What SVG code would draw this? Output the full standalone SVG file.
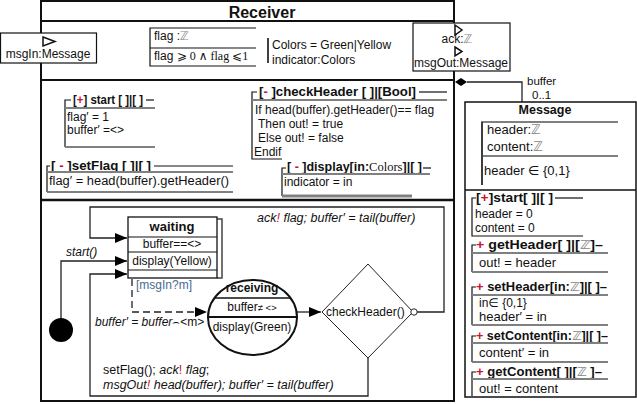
<svg xmlns="http://www.w3.org/2000/svg" width="637" height="404" viewBox="0 0 637 404">
<style>
.t{font-family:"Liberation Sans",Arial,"DejaVu Sans",sans-serif;font-size:12px;fill:#111}
.b{font-weight:bold}
.i{font-style:italic}
.r{fill:#cc1133}
.z{fill:#888}
.bl{fill:#4a6a96}
.s{font-family:"Liberation Serif","DejaVu Serif",serif}
.m{text-anchor:middle}
.mb{font-size:13px}
.ln{stroke:#111;stroke-width:1.2;fill:none}
.g{stroke:#808080;stroke-width:2;fill:none}
.fr{stroke:#111;stroke-width:2;fill:#fff}
.cn{stroke:#222;stroke-width:1.3;fill:none}
</style>
<defs>
<marker id="ah" viewBox="0 0 12 10" refX="12" refY="5" markerWidth="12" markerHeight="10" markerUnits="userSpaceOnUse" orient="auto"><path d="M0,0 L12,5 L0,10 z" fill="#000"/></marker>
</defs>
<rect x="0" y="0" width="637" height="404" fill="#fff"/>

<g id="receiver">
<rect x="41" y="1" width="413" height="400" class="fr"/>
<text x="262" y="18" class="t b m" style="font-size:16px">Receiver</text>
<line x1="41" y1="21" x2="454" y2="21" stroke="#111" stroke-width="2"/>
<line x1="41" y1="80" x2="454" y2="80" stroke="#111" stroke-width="2"/>
<line x1="41" y1="200" x2="454" y2="200" stroke="#111" stroke-width="2.5"/>
</g>

<g id="attributes">
<path d="M256,28 H150 V66 H256 M150,48 H256" class="ln"/>
<text x="154" y="40" class="t">flag :<tspan class="z">ℤ</tspan></text>
<text x="154" y="60" class="t">flag <tspan class="s">⩾ 0 ∧ flag ⩽1</tspan></text>
<line x1="268" y1="38" x2="268" y2="63" stroke="#111" stroke-width="1.6"/>
<text x="272" y="49" class="t">Colors = Green|Yellow</text>
<text x="272" y="64" class="t">indicator:Colors</text>
</g>

<g id="port-msgIn">
<rect x="0.5" y="33" width="96" height="30" fill="#fff" stroke="#111" stroke-width="1.2"/>
<polygon points="43,37 55,41.5 43,46" fill="#fff" stroke="#111" stroke-width="1.5"/>
<text x="48" y="58" class="t m">msgIn:Message</text>
</g>

<g id="port-out">
<rect x="413" y="23" width="97" height="48" fill="#fff" stroke="#111" stroke-width="1.2"/>
<polygon points="455,25 462,30 455,35" fill="#fff" stroke="#111" stroke-width="1.5"/>
<text x="457" y="43" class="t m">ack:<tspan class="z">ℤ</tspan></text>
<polygon points="455,47 462,51.5 455,56" fill="#fff" stroke="#111" stroke-width="1.5"/>
<text x="461" y="67" class="t m">msgOut:Message</text>
</g>

<g id="op-start">
<path d="M71,100 H65 V147" class="ln"/>
<text x="73" y="104" class="t b" textLength="70" lengthAdjust="spacingAndGlyphs">[<tspan class="r">+</tspan>] start [ ]|[ ]</text>
<line x1="146" y1="100" x2="154" y2="100" class="ln"/>
<path d="M65,108 H155 M65,147 H155" class="g"/>
<text x="67" y="121" class="t">flag′  = 1</text>
<text x="67" y="134" class="t">buffer′  =&lt;&gt;</text>
</g>

<g id="op-setFlag">
<path d="M50,166 H47 V192" class="ln"/>
<text x="51" y="170" class="t b" textLength="100" lengthAdjust="spacingAndGlyphs">[ <tspan class="r">-</tspan> ]setFlag [ ]|[ ]</text>
<line x1="154" y1="166" x2="233" y2="166" class="ln"/>
<path d="M47,172 H233 M47,192 H233" class="g"/>
<text x="49" y="185" class="t" textLength="180" lengthAdjust="spacingAndGlyphs">flag′ = head(buffer).getHeader()</text>
</g>

<g id="op-checkHeader">
<path d="M257,92 H252 V159 H282" class="ln"/>
<text x="259" y="96" class="t b" textLength="157" lengthAdjust="spacingAndGlyphs">[<tspan class="r">-</tspan> ]checkHeader [ ]|[Bool]</text>
<line x1="419" y1="92" x2="447" y2="92" class="ln"/>
<path d="M252,100 H447" class="g"/>
<text x="255" y="114" class="t">If head(buffer).getHeader()== flag</text>
<text x="258" y="128" class="t">Then out! = true</text>
<text x="258" y="142" class="t">Else out! = false</text>
<text x="254" y="156" class="t">Endif</text>
</g>

<g id="op-display">
<path d="M286,168 H282 V196" class="ln"/>
<text x="287" y="171" class="t b" textLength="135" lengthAdjust="spacingAndGlyphs">[ <tspan class="r">-</tspan> ]display[in:<tspan class="s" style="font-weight:normal">Colors</tspan>]|[ ]</text>
<line x1="423" y1="168" x2="431" y2="168" class="ln"/>
<path d="M282,174 H430" class="g"/>
<path d="M282,196 H412" stroke="#808080" stroke-width="3"/>
<text x="284" y="186" class="t">indicator = in</text>
</g>

<g id="connectors">
<path d="M417,312 H444 V207 H90 V238 H127" class="cn" marker-end="url(#ah)"/>
<path d="M61,320 V261 H127" class="cn" marker-end="url(#ah)"/>
<path d="M368,358 V396 H90 V274 H127" class="cn" marker-end="url(#ah)"/>
<path d="M132,279 V312 H207" class="cn" stroke-dasharray="7,4" marker-end="url(#ah)"/>
<path d="M297,312 H321" class="cn" marker-end="url(#ah)"/>
<path d="M467,82 H522 V102" class="cn"/>
<polygon points="455,82 461,78 467,82 461,86" fill="#000"/>
</g>

<g id="labels">
<text x="257" y="222" class="t i" style="font-size:12.5px">ack<tspan class="r">!</tspan> flag; buffer′ = tail(buffer)</text>
<text x="66" y="256" class="t i">start()</text>
<text x="136" y="289" class="t bl">[msgIn?m]</text>
<text x="95" y="326" class="t"><tspan class="i">buffer′  = buffer</tspan>⌢&lt;m&gt;</text>
<text x="103" y="374" class="t" style="font-size:12.5px">setFlag(); <tspan class="i">ack</tspan><tspan class="r">!</tspan> <tspan class="i">flag</tspan>;</text>
<text x="103" y="389" class="t i" style="font-size:12.5px">msgOut<tspan class="r">!</tspan> head(buffer); buffer′ = tail(buffer)</text>
<text x="527" y="85" class="t" style="font-size:11.5px">buffer</text>
<text x="532" y="99" class="t" style="font-size:11.5px">0..1</text>
</g>

<g id="initial">
<circle cx="61" cy="330" r="12" fill="#000"/>
</g>

<g id="waiting">
<path d="M217,219 H222 V278 H217" fill="#fff" stroke="#444" stroke-width="1.5"/>
<rect x="128" y="217" width="89" height="61" fill="#fff" stroke="#111" stroke-width="1.3"/>
<text x="172" y="231" class="t b m" style="font-size:13px">waiting</text>
<path d="M128,237 H217 M128,252 H217 M128,270 H217" class="ln"/>
<text x="172" y="248" class="t m">buffer==&lt;&gt;</text>
<text x="172" y="265" class="t m">display(Yellow)</text>
</g>

<g id="receiving">
<ellipse cx="252.5" cy="317.5" rx="44.5" ry="37.5" fill="#fff" stroke="#111" stroke-width="2"/>
<line x1="214.5" y1="298" x2="290.5" y2="298" stroke="#111" stroke-width="1.5"/>
<line x1="208" y1="317" x2="297" y2="317" stroke="#111" stroke-width="2"/>
<text x="252" y="292" class="t b m">receiving</text>
<text x="252" y="311" class="t m">buffer<tspan style="font-size:9.5px">≠ &lt;&gt;</tspan></text>
<text x="252" y="331" class="t m">display(Green)</text>
</g>

<g id="checkHeader-choice">
<polygon points="368,264 413,312 368,358 322,312" fill="#fff" stroke="#222" stroke-width="1"/>
<text x="326" y="316" class="t">checkHeader()</text>
<circle cx="414" cy="312" r="3.2" fill="#fff" stroke="#222" stroke-width="1"/>
</g>

<g id="message">
<rect x="465" y="102" width="171" height="295" fill="#fff" stroke="#111" stroke-width="1.5"/>
<text x="545" y="114" class="t b m" style="font-size:12.5px">Message</text>
<path d="M618,122 H482 V185 M482,156 H618" class="g"/>
<line x1="482" y1="122" x2="482" y2="185" class="ln"/>
<text x="487" y="134" class="t mb">header:<tspan class="z">ℤ</tspan></text>
<text x="487" y="151" class="t mb">content:<tspan class="z">ℤ</tspan></text>
<text x="484" y="175" class="t mb">header ∈ {0,1}</text>
<line x1="465" y1="190" x2="636" y2="190" stroke="#111" stroke-width="1.5"/>

<path d="M476,198 H472 V236 H583" class="ln"/>
<text x="476" y="202" class="t b" textLength="77" lengthAdjust="spacingAndGlyphs">[<tspan class="r">+</tspan>]start[ ]|[ ]</text>
<line x1="555" y1="198" x2="583" y2="198" class="ln"/>
<text x="475" y="218" class="t">header = 0</text>
<text x="475" y="232" class="t">content = 0</text>

<path d="M476,245 H472 V272" class="ln"/>
<text x="476" y="249" class="t b" textLength="127" lengthAdjust="spacingAndGlyphs"><tspan class="r">+</tspan> getHeader[ ]|[<tspan class="z">ℤ</tspan>]–</text>
<path d="M472,253 H608 M472,272 H608" class="g"/>
<text x="479" y="267" class="t mb">out! = header</text>

<path d="M476,287 H472 V325" class="ln"/>
<text x="476" y="291" class="t b" textLength="131" lengthAdjust="spacingAndGlyphs"><tspan class="r">+</tspan> setHeader[in:<tspan class="z">ℤ</tspan>]|[ ]–</text>
<path d="M472,295 H608 M472,325 H608" class="g"/>
<text x="479" y="307" class="t">in∈ {0,1}</text>
<text x="479" y="321" class="t mb">header′ = in</text>

<path d="M476,336 H472 V362" class="ln"/>
<text x="476" y="340" class="t b" textLength="132" lengthAdjust="spacingAndGlyphs"><tspan class="r">+</tspan> setContent[in:<tspan class="z">ℤ</tspan>]|[ ]–</text>
<path d="M472,343 H608 M472,362 H608" class="g"/>
<text x="479" y="357" class="t mb">content′ = in</text>

<path d="M476,372 H472 V396" class="ln"/>
<text x="476" y="376" class="t b" textLength="126" lengthAdjust="spacingAndGlyphs"><tspan class="r">+</tspan> getContent[ ]|[<tspan class="z">ℤ </tspan>]–</text>
<path d="M472,379 H608" class="g"/>
<text x="479" y="393" class="t mb">out! = content</text>
</g>
</svg>
